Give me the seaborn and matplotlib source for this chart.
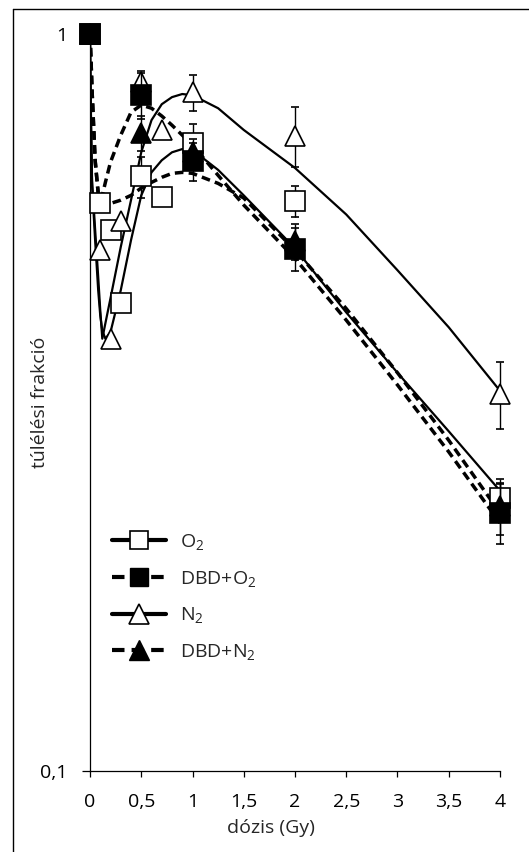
import matplotlib
matplotlib.use('Agg')
import matplotlib.pyplot as plt
import seaborn as sns
from matplotlib.lines import Line2D
from matplotlib.ticker import FixedLocator, NullLocator

# mért pontok (dózis Gy, túlélési frakció)
dose = [0, 0.1, 0.2, 0.3, 0.5, 0.7, 1, 2, 4]
o2_surv = [1.0, 0.589, 0.542, 0.431, 0.641, 0.601, 0.711, 0.593, 0.235]
o2_err = [0, 0, 0, 0, 0.041, 0, 0.044, 0.028, 0.011]
n2_surv = [1.0, 0.509, 0.386, 0.557, 0.861, 0.741, 0.834, 0.728, 0.325]
n2_err = [0, 0, 0, 0, 0.03, 0, 0.047, 0.068, 0.034]

dose_dbd = [0, 0.5, 1, 2, 4]
dbd_o2_surv = [1.0, 0.826, 0.672, 0.511, 0.224]
dbd_o2_err = [0, 0.06, 0.04, 0.034, 0.021]
dbd_n2_surv = [1.0, 0.734, 0.691, 0.523, 0.229]
dbd_n2_err = [0, 0.04, 0.03, 0.03, 0.02]

# illesztett görbék, leolvasva
fit_dose = [0, 0.01, 0.02, 0.05, 0.08, 0.1, 0.12, 0.15, 0.2, 0.3, 0.4, 0.5,
            0.6, 0.7, 0.8, 0.9, 1.0, 1.25, 1.5, 2, 2.5, 3, 3.5, 4]
fit_n2 = [1.0, 0.76, 0.633, 0.543, 0.468, 0.422, 0.386, 0.405, 0.438, 0.514,
          0.595, 0.691, 0.764, 0.803, 0.821, 0.829, 0.826, 0.793, 0.741,
          0.658, 0.569, 0.478, 0.400, 0.328]
fit_o2 = [1.0, 0.752, 0.623, 0.525, 0.449, 0.415, 0.396, 0.386, 0.394, 0.449,
          0.525, 0.604, 0.649, 0.674, 0.691, 0.698, 0.696, 0.654, 0.604,
          0.512, 0.419, 0.347, 0.289, 0.240]
fit_dbd_o2 = [1.0, 0.922, 0.839, 0.674, 0.608, 0.595, 0.604, 0.629, 0.670,
              0.729, 0.783, 0.801, 0.793, 0.774, 0.752, 0.729, 0.707, 0.643,
              0.586, 0.496, 0.409, 0.334, 0.271, 0.217]
fit_dbd_n2 = [1.0, 0.922, 0.839, 0.674, 0.608, 0.595, 0.591, 0.588, 0.589,
              0.595, 0.604, 0.618, 0.629, 0.639, 0.647, 0.649, 0.647, 0.627,
              0.599, 0.509, 0.424, 0.347, 0.281, 0.224]

labels = ['O$_\\mathrm{2}$', 'DBD+O$_\\mathrm{2}$', 'N$_\\mathrm{2}$', 'DBD+N$_\\mathrm{2}$']

sns.set_style('ticks')
plt.rcParams['font.family'] = ['Open Sans', 'DejaVu Sans']
plt.rcParams['mathtext.fontset'] = 'custom'
plt.rcParams['mathtext.rm'] = 'Open Sans'
plt.rcParams['mathtext.it'] = 'Open Sans:italic'

FS = 14
W, H = 529, 852
fig = plt.figure(figsize=(W / 100, H / 100), dpi=100)
ax = fig.add_axes([90 / W, 1 - 771 / H, 410 / W, 737 / H])

dash = (0, (2.5, 1.5))
for vals, lw, ls in [(fit_n2, 1.6, '-'), (fit_o2, 1.6, '-'),
                     (fit_dbd_o2, 2.5, dash), (fit_dbd_n2, 2.5, dash)]:
    sns.lineplot(x=fit_dose, y=vals, ax=ax, color='black', linewidth=lw,
                 linestyle=ls, sort=False, estimator=None, errorbar=None)

common = dict(ecolor='black', elinewidth=1.0, capsize=3, capthick=1.0,
              mec='black', mew=1.2, ms=15, clip_on=False, ls='none')
ax.errorbar(dose, o2_surv, yerr=o2_err, fmt='s', mfc='white', zorder=4, **common)
ax.errorbar(dose, n2_surv, yerr=n2_err, fmt='^', mfc='white', zorder=5, **common)
ax.errorbar(dose_dbd, dbd_n2_surv, yerr=dbd_n2_err, fmt='^', mfc='black', zorder=6, **common)
ax.errorbar(dose_dbd, dbd_o2_surv, yerr=dbd_o2_err, fmt='s', mfc='black', zorder=7, **common)

ax.set_yscale('log')
ax.set_ylim(0.1, 1)
ax.set_xlim(0, 4)
ax.yaxis.set_major_locator(FixedLocator([0.1, 1]))
ax.yaxis.set_minor_locator(NullLocator())
ax.set_yticklabels(['0,1', '1'])
xt = [0, 0.5, 1, 1.5, 2, 2.5, 3, 3.5, 4]
ax.set_xticks(xt)
ax.set_xticklabels([f'{t:g}'.replace('.', ',') for t in xt])
ax.set_xlabel('')
ax.set_ylabel('')
sns.despine(ax=ax)
for s in ['left', 'bottom']:
    ax.spines[s].set_linewidth(0.9)
    ax.spines[s].set_color('black')
ax.tick_params(axis='x', length=4, width=0.9, pad=12, labelsize=FS, colors='black')
ax.tick_params(axis='y', length=6, width=0.9, pad=10, labelsize=FS, colors='black')

fig.text(271 / W, 1 - 828 / H, 'dózis (Gy)', ha='center', va='center', fontsize=FS)
fig.text(40 / W, 1 - 402 / H, 'túlélési frakció', ha='center', va='center',
         rotation=90, fontsize=FS)

leg_dash = (0, (3, 1.7))
handles = [
    Line2D([], [], color='black', lw=3, ls='-', marker='s', ms=13, mfc='white', mec='black', mew=1.2),
    Line2D([], [], color='black', lw=3, ls=leg_dash, marker='s', ms=13, mfc='black', mec='black'),
    Line2D([], [], color='black', lw=3, ls='-', marker='^', ms=15, mfc='white', mec='black', mew=1.2),
    Line2D([], [], color='black', lw=3, ls=leg_dash, marker='^', ms=15, mfc='black', mec='black'),
]
ax.legend(handles, labels, loc='center left', bbox_to_anchor=(0.054, 0.236),
          frameon=False, fontsize=FS, handlelength=2.75, handletextpad=0.75,
          labelspacing=0.86, borderpad=0, borderaxespad=0)

# keret a kép körül
fig.add_artist(Line2D([13 / W, 13 / W], [0, 1 - 9 / H], transform=fig.transFigure,
                      color='black', lw=1))
fig.add_artist(Line2D([13 / W, 1], [1 - 9 / H, 1 - 9 / H], transform=fig.transFigure,
                      color='black', lw=1))

fig.savefig('out.png', dpi=100)
